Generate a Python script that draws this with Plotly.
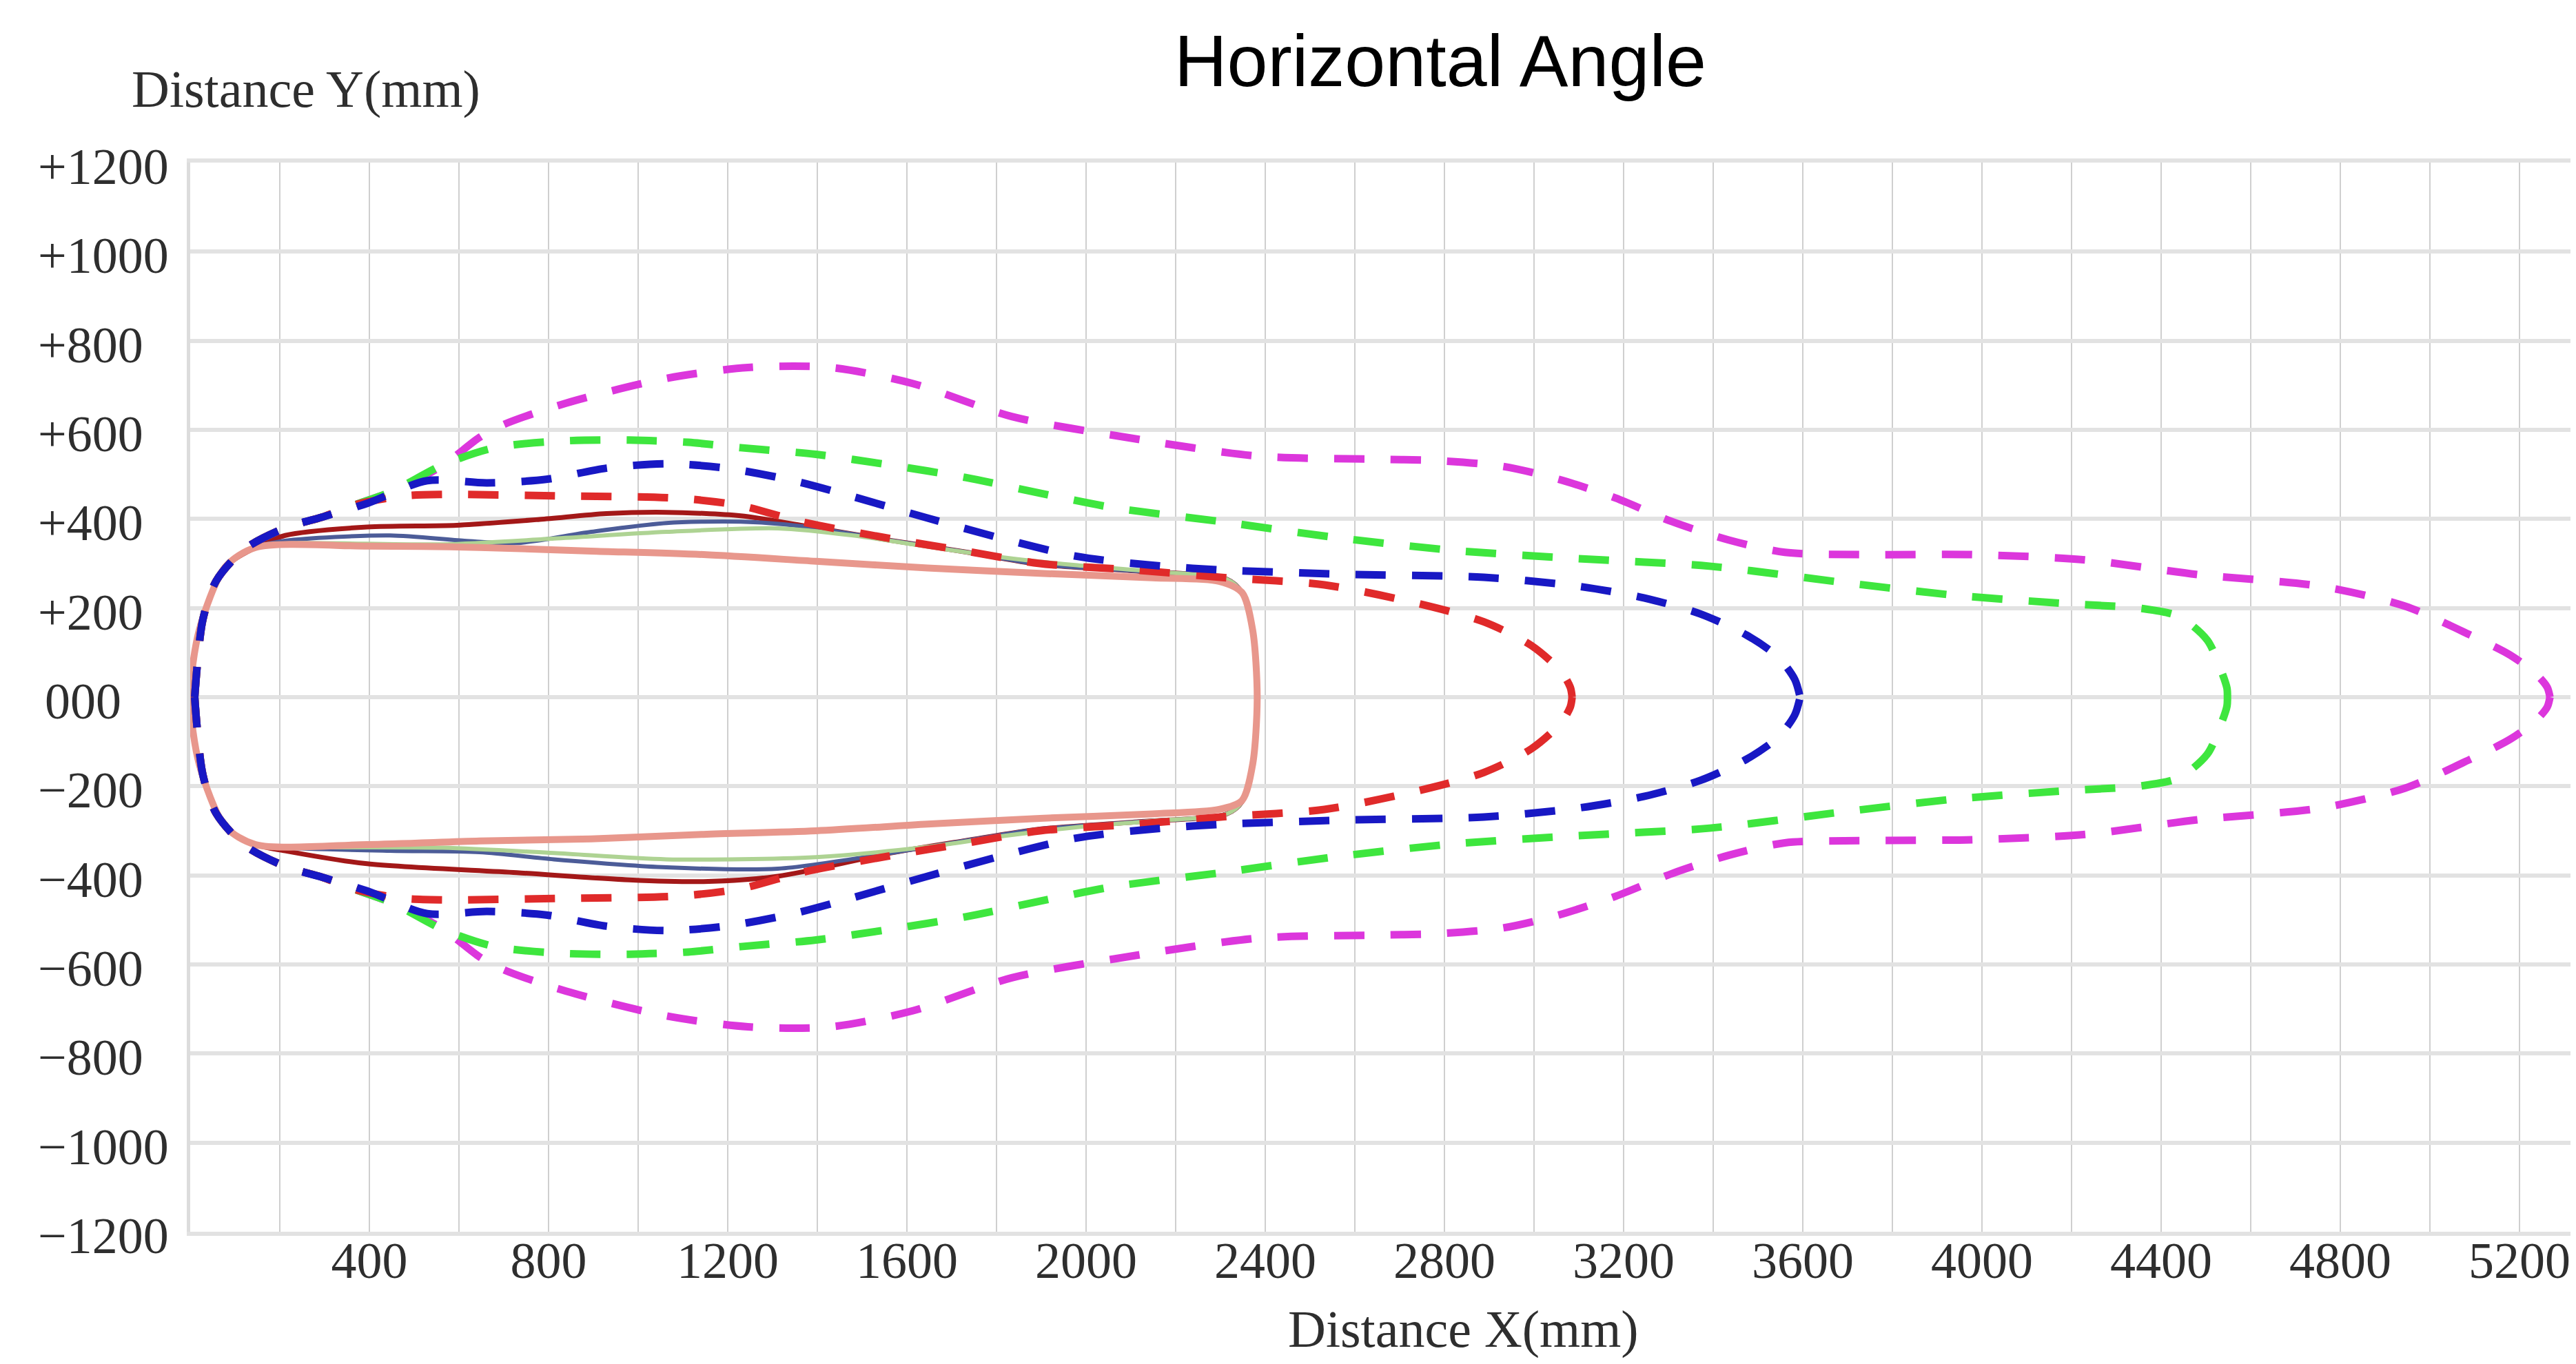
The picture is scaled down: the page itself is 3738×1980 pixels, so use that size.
import plotly.graph_objects as go

# ---------------- data (mm) ----------------
x_tick_vals = [400, 800, 1200, 1600, 2000, 2400, 2800, 3200, 3600, 4000, 4400, 4800, 5200]
x_tick_text = ["400", "800", "1200", "1600", "2000", "2400", "2800", "3200", "3600", "4000", "4400", "4800", "5200"]
y_tick_vals = [1200, 1000, 800, 600, 400, 200, 0, -200, -400, -600, -800, -1000, -1200]
y_tick_text = ["+1200", "+1000", "+800", "+600", "+400", "+200", "000",
               "\u2212200", "\u2212400", "\u2212600", "\u2212800", "\u22121000", "\u22121200"]

# dashed envelopes: upper and lower halves, each read from the nose (left) to the tip (right)
magenta_x_upper = [10, 28, 58, 122, 215, 294, 372, 451, 562, 646, 700, 839, 1060, 1245, 1430, 1613, 1834, 2091,
                   2385, 2657, 2783, 2931, 3055, 3182, 3308, 3434, 3560, 3728, 3979, 4231, 4483, 4756, 4945, 5091,
                   5180, 5238, 5262, 5268]
magenta_y_upper = [0, 173, 261, 333, 381, 404, 433, 462, 519, 583, 612, 660, 715, 740, 740, 704, 630, 583,
                   541, 534, 531, 518, 489, 447, 394, 353, 325, 320, 320, 308, 275, 249, 204, 139,
                   94, 51, 22, 0]
magenta_x_lower = [10, 28, 58, 122, 215, 294, 372, 451, 562, 646, 700, 839, 1060, 1245, 1430, 1613, 1834, 2091,
                   2385, 2657, 2783, 2931, 3055, 3182, 3308, 3434, 3560, 3728, 3979, 4231, 4483, 4756, 4945, 5091,
                   5180, 5238, 5262, 5268]
magenta_y_lower = [0, -173, -261, -333, -381, -404, -433, -462, -519, -583, -612, -660, -715, -740, -740, -704,
                   -630, -583, -541, -534, -531, -518, -489, -447, -396, -355, -327, -322, -320, -308, -275,
                   -249, -204, -139, -94, -51, -22, 0]

green_x_upper = [10, 28, 58, 122, 215, 294, 372, 451, 563, 680, 829, 980, 1112, 1229, 1397, 1563, 1731, 1897,
                 2063, 2302, 2552, 2825, 3098, 3392, 3686, 3937, 4189, 4357, 4440, 4503, 4535, 4547, 4548]
green_y_upper = [0, 173, 261, 333, 381, 404, 433, 462, 521, 560, 575, 577, 572, 560, 545, 521, 493, 458,
                 425, 394, 359, 329, 311, 294, 258, 229, 210, 199, 181, 128, 57, 20, 0]
green_x_lower = [10, 28, 58, 122, 215, 294, 372, 451, 563, 680, 829, 980, 1112, 1229, 1397, 1563, 1731, 1897,
                 2063, 2302, 2552, 2825, 3098, 3392, 3686, 3937, 4189, 4357, 4440, 4503, 4535, 4547, 4548]
green_y_lower = [0, -173, -261, -333, -381, -404, -433, -462, -521, -560, -575, -577, -572, -560, -545, -521,
                 -493, -458, -425, -394, -359, -329, -311, -294, -258, -229, -210, -199, -181, -128, -57, -20, 0]

red_x_upper = [10, 28, 58, 122, 215, 294, 372, 480, 563, 812, 1097, 1229, 1363, 1563, 1731, 1897, 2114, 2314,
               2532, 2742, 2888, 2994, 3060, 3081, 3085]
red_y_upper = [0, 173, 261, 333, 381, 404, 433, 452, 455, 452, 446, 430, 394, 356, 328, 300, 285, 268,
               252, 210, 169, 116, 58, 22, 0]
red_x_lower = [10, 28, 58, 122, 215, 294, 372, 480, 563, 812, 1097, 1229, 1363, 1563, 1731, 1897, 2114, 2314,
               2532, 2742, 2888, 2994, 3060, 3081, 3085]
red_y_lower = [0, -173, -261, -333, -381, -404, -433, -452, -455, -452, -446, -430, -394, -356, -328, -300,
               -285, -268, -252, -210, -169, -116, -58, -22, 0]

blue_x_upper = [10, 28, 58, 122, 215, 294, 395, 529, 663, 795, 929, 1063, 1197, 1346, 1480, 1646, 1813, 1980,
                2148, 2314, 2574, 2888, 3098, 3245, 3371, 3475, 3545, 3582, 3594]
blue_y_upper = [0, 173, 261, 333, 381, 404, 435, 486, 481, 489, 514, 524, 514, 486, 450, 402, 356, 316,
                296, 285, 276, 269, 249, 223, 187, 139, 90, 40, 0]
blue_x_lower = [10, 28, 58, 122, 215, 294, 395, 529, 663, 795, 929, 1063, 1197, 1346, 1480, 1646, 1813, 1980,
                2148, 2314, 2574, 2888, 3098, 3245, 3371, 3475, 3545, 3582, 3594]
blue_y_lower = [0, -173, -261, -333, -381, -404, -435, -486, -481, -489, -514, -524, -514, -486, -450, -402,
                -356, -316, -296, -285, -276, -269, -249, -223, -187, -139, -90, -40, 0]

# solid contours (closed)
darkred_x = [0, 20, 78, 146, 212, 395, 595, 780, 929, 1063, 1229, 1363, 1563, 1731, 1897, 2114, 2314,
             2348, 2372, 2382, 2372, 2348, 2314, 2114, 1897, 1731, 1563, 1312, 1146, 980, 729, 395, 212,
             146, 78, 20, 0]
darkred_y = [0, 150, 292, 336, 363, 382, 386, 399, 412, 415, 407, 386, 352, 326, 298, 283, 265,
             235, 150, 0, -150, -235, -262, -280, -296, -322, -350, -402, -414, -410, -394, -374, -345,
             -331, -290, -150, 0]

slate_x = [0, 20, 78, 146, 212, 446, 612, 729, 895, 1063, 1229, 1363, 1563, 1731, 1897, 2114, 2314,
           2348, 2372, 2382, 2372, 2348, 2314, 2114, 1897, 1731, 1563, 1312, 1063, 812, 646, 446, 212,
           146, 78, 20, 0]
slate_y = [0, 150, 292, 336, 351, 363, 351, 346, 371, 391, 394, 384, 352, 326, 298, 283, 265,
           235, 150, 0, -150, -235, -262, -280, -296, -322, -350, -385, -382, -364, -348, -345, -338,
           -331, -290, -150, 0]

lightgreen_x = [0, 20, 78, 146, 212, 563, 812, 1063, 1312, 1480, 1646, 1813, 1980, 2148, 2314,
                2348, 2372, 2382, 2372, 2348, 2314, 2148, 1980, 1813, 1646, 1397, 1063, 812, 563, 212,
                146, 78, 20, 0]
lightgreen_y = [0, 150, 292, 336, 345, 343, 356, 371, 379, 363, 338, 314, 296, 282, 265,
                235, 150, 0, -150, -235, -262, -278, -292, -312, -336, -359, -364, -350, -338, -336,
                -331, -290, -150, 0]

pink_x = [0, 20, 78, 146, 395, 646, 895, 1146, 1397, 1646, 1897, 2148, 2297, 2348, 2372, 2382,
          2372, 2348, 2297, 2148, 1897, 1646, 1397, 1146, 895, 646, 395, 146, 78, 20, 0]
pink_y = [0, 150, 292, 336, 339, 336, 328, 320, 305, 290, 278, 268, 260, 235, 150, 0,
          -150, -232, -252, -262, -272, -285, -300, -308, -318, -323, -331, -331, -290, -150, 0]

# ---------------- figure ----------------
W, H = 3738, 1980
L, R, T, B = 268, 0, 228, 200
PW, PH = W - L - R, H - T - B
X_MAX = PW / 130.0 * 200.0

fig = go.Figure()

solids = [
    (darkred_x, darkred_y, "#a31818", 7),
    (slate_x, slate_y, "#4c5c98", 6),
    (lightgreen_x, lightgreen_y, "#aed393", 6),
    (pink_x, pink_y, "#e8978c", 10),
]
for xs, ys, col, w in solids:
    fig.add_trace(go.Scatter(x=xs, y=ys, mode="lines",
                             line=dict(color=col, width=w, shape="spline", smoothing=0.8),
                             hoverinfo="skip", showlegend=False))

dashed = [
    (magenta_x_upper, magenta_y_upper, magenta_x_lower, magenta_y_lower, "#dc36dc"),
    (green_x_upper, green_y_upper, green_x_lower, green_y_lower, "#3ee63e"),
    (red_x_upper, red_y_upper, red_x_lower, red_y_lower, "#e02a2a"),
    (blue_x_upper, blue_y_upper, blue_x_lower, blue_y_lower, "#1818c4"),
]
for xu, yu, xl, yl, col in dashed:
    for xs, ys in ((xu, yu), (xl, yl)):
        fig.add_trace(go.Scatter(x=xs, y=ys, mode="lines",
                                 line=dict(color=col, width=11, dash="44px,38px", shape="spline", smoothing=0.8),
                                 hoverinfo="skip", showlegend=False))

annotations = []
for v, t in zip(y_tick_vals, y_tick_text):
    annotations.append(dict(
        text=t, x=(45 - L) / PW, xref="paper", y=v, yref="y",
        xanchor="left", yanchor="middle", showarrow=False, yshift=-6,
        xshift=10 if t == "000" else 0,
        font=dict(family="Liberation Serif", size=74, color="#2e2e2e")))

annotations.append(dict(text="Horizontal Angle", x=(2082 - L) / PW, y=(H - B - 80) / PH,
                        xref="paper", yref="paper", xanchor="center", yanchor="middle", showarrow=False,
                        font=dict(family="Liberation Sans", size=106, color="#000000")))
annotations.append(dict(text="Distance Y(mm)", x=(436 - L) / PW, y=(H - B - 121) / PH,
                        xref="paper", yref="paper", xanchor="center", yanchor="middle", showarrow=False,
                        font=dict(family="Liberation Serif", size=76, color="#2e2e2e")))
annotations.append(dict(text="Distance X(mm)", x=(2115 - L) / PW, y=(H - B - 1922) / PH,
                        xref="paper", yref="paper", xanchor="center", yanchor="middle", showarrow=False,
                        font=dict(family="Liberation Serif", size=76, color="#2e2e2e")))

fig.update_layout(
    width=W, height=H,
    margin=dict(l=L, r=R, t=T, b=B, pad=0),
    paper_bgcolor="white", plot_bgcolor="white",
    showlegend=False,
    annotations=annotations,
    xaxis=dict(
        range=[0, X_MAX], tickvals=x_tick_vals, ticktext=x_tick_text,
        showgrid=True, gridcolor="#cfcfcf", gridwidth=2,
        minor=dict(dtick=200, tick0=0, showgrid=True, gridcolor="#cfcfcf", gridwidth=2),
        zeroline=False, showline=True, mirror=True, linecolor="#e2e2e2", linewidth=6,
        ticks="", ticklabelstandoff=-28,
        tickfont=dict(family="Liberation Serif", size=74, color="#2e2e2e"),
        fixedrange=True,
    ),
    yaxis=dict(
        range=[-1200, 1200], tickvals=y_tick_vals, showticklabels=False,
        showgrid=True, gridcolor="#e2e2e2", gridwidth=6,
        zeroline=False, showline=True, linecolor="#dcdcdc", linewidth=5,
        ticks="", fixedrange=True,
    ),
)

fig.write_html("out.html")
